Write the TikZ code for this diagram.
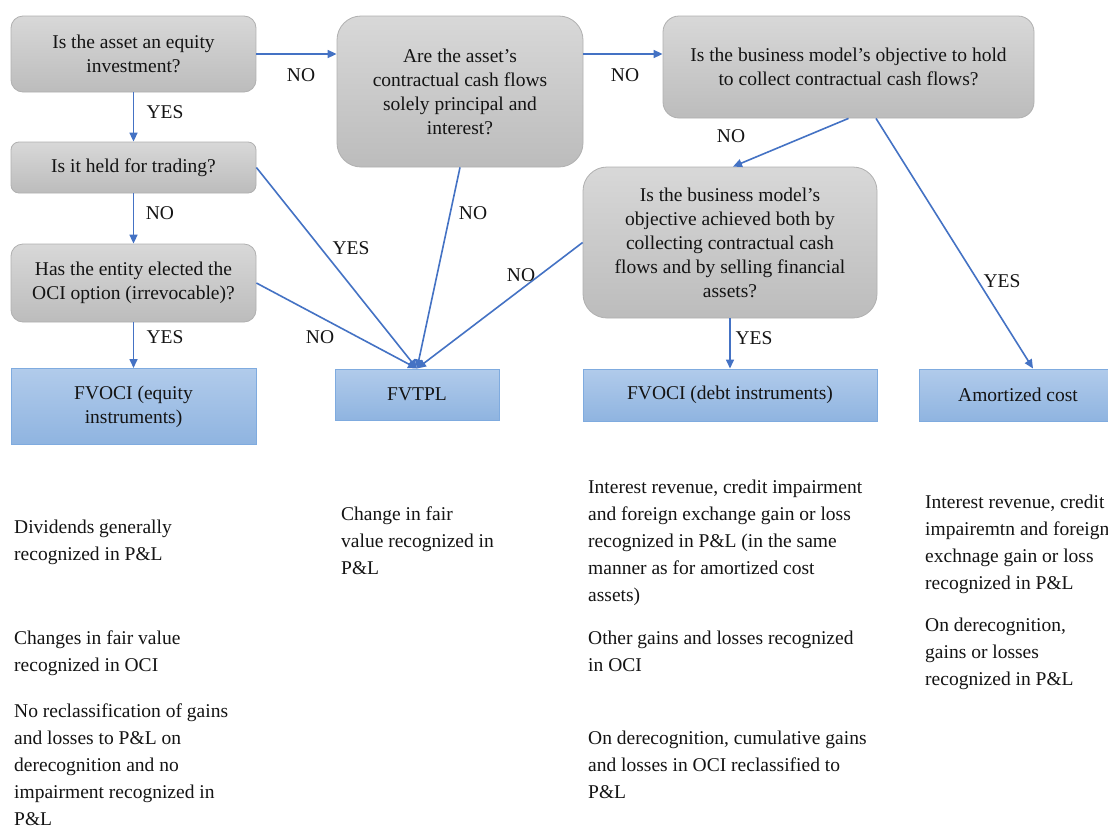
\documentclass[tikz,border=0pt]{standalone}
\usepackage{fontspec}
\setmainfont{Liberation Serif}
\usetikzlibrary{arrows.meta}
\definecolor{lineblue}{HTML}{4472C4}
\definecolor{grayT}{HTML}{D8D8D8}
\definecolor{grayB}{HTML}{BCBCBC}
\definecolor{grayE}{HTML}{B0B0B0}
\definecolor{blueT}{HTML}{B1CBEB}
\definecolor{blueB}{HTML}{8FB4E0}
\definecolor{blueE}{HTML}{7FABDF}
\definecolor{txt}{HTML}{141414}
\newcommand\myboxfont{\fontsize{19.5}{24}\selectfont}
\newcommand\mynotefont{\fontsize{19.5}{27}\selectfont}
\tikzset{
  qbox/.style={draw=grayE, line width=0.8pt, top color=grayT, bottom color=grayB,
    rectangle, align=center, inner sep=0pt, font=\myboxfont, text=txt},
  rbox/.style={draw=blueE, line width=1pt, top color=blueT, bottom color=blueB,
    rectangle, align=center, inner sep=0pt, font=\myboxfont, text=txt},
  conn/.style={draw=lineblue, line width=1.6pt, -{Triangle[length=9pt,width=8pt]}},
  lbl/.style={font=\myboxfont, inner sep=0pt, text=txt},
  note/.style={font=\mynotefont, align=left, anchor=north west, inner sep=0pt, text=txt,
    execute at begin node={\rule{0pt}{14pt}}}
}
\begin{document}
\begin{tikzpicture}[x=1pt,y=-1pt]
\useasboundingbox (0,0) rectangle (1108,825);
\clip (0,0) rectangle (1108,825);
\fill[white] (0,0) rectangle (1108,825);

% question boxes
\node[qbox, rounded corners=12pt, minimum width=245pt, minimum height=76pt] (a) at (133.5,54)
  {Is the asset an equity\\investment?};
\node[qbox, rounded corners=8pt, minimum width=245pt, minimum height=51pt] (b) at (133.5,167.5)
  {Is it held for trading?};
\node[qbox, rounded corners=12pt, minimum width=245pt, minimum height=78pt] (c) at (133.5,283)
  {Has the entity elected the\\OCI option (irrevocable)?};
\node[qbox, rounded corners=24pt, minimum width=246pt, minimum height=151pt] (sppi) at (460,91.5)
  {Are the asset's\\contractual cash flows\\solely principal and\\interest?};
\node[qbox, rounded corners=16pt, minimum width=371pt, minimum height=102pt] (hold) at (848.5,67)
  {Is the business model's objective to hold\\to collect contractual cash flows?};
\node[qbox, rounded corners=24pt, minimum width=294pt, minimum height=151pt] (ach) at (730,242.5)
  {Is the business model's\\objective achieved both by\\collecting contractual cash\\flows and by selling financial\\assets?};

% result boxes
\node[rbox, minimum width=245pt, minimum height=76pt] (eq) at (133.5,406.5)
  {FVOCI (equity\\instruments)};
\node[rbox, minimum width=164pt, minimum height=51pt] (fvtpl) at (417,394.5)
  {FVTPL};
\node[rbox, minimum width=294pt, minimum height=52pt] (debt) at (730,395)
  {FVOCI (debt instruments)};
\node[rbox, minimum width=198pt, minimum height=52pt] (amort) at (1018,395)
  {Amortized cost};

% connectors
\draw[conn] (a.east) -- (a.east -| sppi.west);
\draw[conn] (a.east -| sppi.east) -- (a.east -| hold.west);
\draw[conn] (a.south) -- (b.north);
\draw[conn] (b.south) -- (c.north);
\draw[conn] (c.south) -- (eq.north);
\draw[conn] (b.east) -- (fvtpl.north);
\draw[conn] (c.east) -- (fvtpl.north);
\draw[conn] (sppi.south) -- (fvtpl.north);
\draw[conn] (ach.west) -- (fvtpl.north);
\draw[conn] (hold.south) -- ([xshift=3pt]ach.north);
\draw[conn] ([xshift=27.5pt]hold.south) -- ([xshift=15pt]amort.north);
\draw[conn] (ach.south) -- (debt.north);

% connector labels
\node[lbl] (l1) at (165,112) {YES};
\node[lbl] (l2) at (301,75) {NO};
\node[lbl] (l3) at (625,75) {NO};
\node[lbl] (l4) at (731,136) {NO};
\node[lbl] (l5) at (1002,281) {YES};
\node[lbl] (l6) at (160,213) {NO};
\node[lbl] (l7) at (165,337) {YES};
\node[lbl] (l8) at (351,248) {YES};
\node[lbl] (l9) at (320,337) {NO};
\node[lbl] (l10) at (473,213) {NO};
\node[lbl] (l11) at (521,275) {NO};
\node[lbl] (l12) at (754,338) {YES};

% notes
\node[note] (n1) at (14,519.5) {Dividends generally\\recognized in P\&L};
\node[note] (n2) at (14,630.5) {Changes in fair value\\recognized in OCI};
\node[note] (n3) at (14,703.5) {No reclassification of gains\\and losses to P\&L on\\derecognition and no\\impairment recognized in\\P\&L};
\node[note] (n4) at (341,506.5) {Change in fair\\value recognized in\\P\&L};
\node[note] (n5) at (588,479.5) {Interest revenue, credit impairment\\and foreign exchange gain or loss\\recognized in P\&L (in the same\\manner as for amortized cost\\assets)};
\node[note] (n6) at (588,630.5) {Other gains and losses recognized\\in OCI};
\node[note] (n7) at (588,730.5) {On derecognition, cumulative gains\\and losses in OCI reclassified to\\P\&L};
\node[note] (n8) at (925,494.5) {Interest revenue, credit\\impairemtn and foreign\\exchnage gain or loss\\recognized in P\&L};
\node[note] (n9) at (925,617.5) {On derecognition,\\gains or losses\\recognized in P\&L};
\end{tikzpicture}
\end{document}
